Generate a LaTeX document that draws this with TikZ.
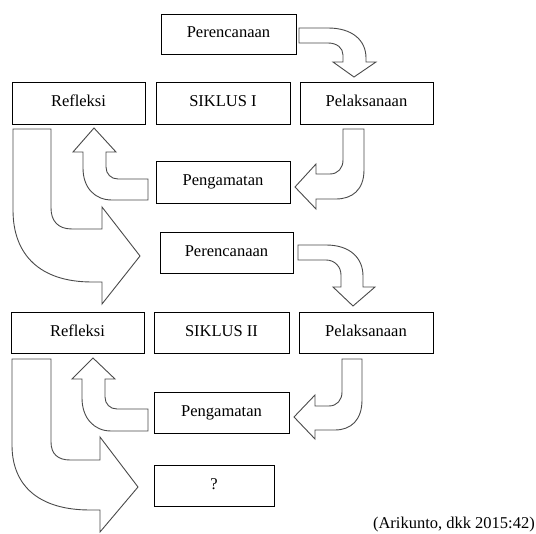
\documentclass[tikz,border=0pt]{standalone}
\usepackage{fontspec}
\setmainfont{Liberation Serif}
\usepackage{tikz}
\definecolor{garis}{HTML}{4A4A4A}

\begin{document}
\begin{tikzpicture}[x=1pt,y=-1pt,
  tahap/.style={draw,line width=1pt,minimum width=133pt,minimum height=42pt,
    inner sep=0pt,text height=12pt,text depth=6pt,font=\fontsize{16.5}{20}\selectfont},
  panah/.style={draw=garis,line width=0.9pt,fill=white,line join=miter}]
  \useasboundingbox (0,0) rectangle (536,534);

  % Siklus I
  \node[tahap,minimum width=135pt,minimum height=40pt] (per1) at (228.5,35) {Perencanaan};
  \node[tahap] (ref1) at (78.5,104) {Refleksi};
  \node[tahap,minimum width=134pt] (sik1) at (223,104) {SIKLUS I};
  \node[tahap] (pel1) at (366.5,104) {Pelaksanaan};
  \node[tahap,minimum width=134pt] (pen1) at (223,183) {Pengamatan};

  % Siklus II
  \node[tahap,minimum height=41pt] (per2) at (226.5,253.5) {Perencanaan};
  \node[tahap,minimum height=41pt] (ref2) at (77.5,333.5) {Refleksi};
  \node[tahap,minimum width=135pt,minimum height=41pt] (sik2) at (221.5,333.5) {SIKLUS II};
  \node[tahap,minimum width=134pt,minimum height=41pt] (pel2) at (366,333.5) {Pelaksanaan};
  \node[tahap,minimum width=135pt,minimum height=41pt] (pen2) at (221.5,413.5) {Pengamatan};
  \node[tahap,minimum width=120pt,minimum height=41pt] (tanya) at (214,486.5) {?};

  \node[anchor=east,inner sep=0pt,font=\fontsize{16.5}{20}\selectfont] (sumber) at (535,525) {(Arikunto, dkk 2015:42)};

  % panah siklus I
  \draw[panah] (299,28) -- (328,28) .. controls (352,28) and (366,40) .. (366,58) -- (366,62)
    -- (376,62) -- (354,77) -- (333,62) -- (343,62) -- (343,55)
    .. controls (343,48) and (337,43) .. (328,43) -- (299,43) -- cycle;
  \draw[panah] (343,129) -- (364,129) -- (364,170) .. controls (364,190) and (352,199) .. (336,199)
    -- (316,199) -- (316,209) -- (295,187) -- (316,164) -- (316,174) -- (330,174)
    .. controls (338,174) and (343,168) .. (343,160) -- cycle;
  \draw[panah] (148,179) -- (118,179) .. controls (111,179) and (106,174) .. (106,167) -- (106,152)
    -- (116,152) -- (94,128) -- (73,152) -- (83,152) -- (83,168)
    .. controls (83,188) and (95,200) .. (112,200) -- (148,200) -- cycle;
  \draw[panah] (13,129) -- (51,129) -- (51,208) .. controls (51,221) and (58,229) .. (72,229)
    -- (102,229) -- (102,207) -- (140,256) -- (102,304) -- (102,282) -- (92,282)
    .. controls (40,282) and (13,255) .. (13,210) -- cycle;

  % panah siklus II
  \draw[panah] (298,245) -- (326,245) .. controls (350,245) and (363,258) .. (363,276) -- (363,287)
    -- (375,287) -- (353,306) -- (333,287) -- (341,287) -- (341,275)
    .. controls (341,267) and (335,260) .. (326,260) -- (298,260) -- cycle;
  \draw[panah] (342,359) -- (362,359) -- (362,400) .. controls (362,420) and (351,430) .. (335,430)
    -- (315,430) -- (315,439) -- (294,417) -- (315,395) -- (315,406) -- (329,406)
    .. controls (337,406) and (342,400) .. (342,392) -- cycle;
  \draw[panah] (148,409) -- (117,409) .. controls (110,409) and (105,404) .. (105,397) -- (105,379)
    -- (115,379) -- (93,358) -- (72,379) -- (82,379) -- (82,398)
    .. controls (82,418) and (94,431) .. (111,431) -- (148,431) -- cycle;
  \draw[panah] (12,359) -- (51,359) -- (51,442) .. controls (51,454) and (58,460) .. (70,460)
    -- (100,460) -- (100,437) -- (138,487) -- (100,532) -- (100,510) -- (90,510)
    .. controls (38,510) and (12,485) .. (12,445) -- cycle;
\end{tikzpicture}
\end{document}
